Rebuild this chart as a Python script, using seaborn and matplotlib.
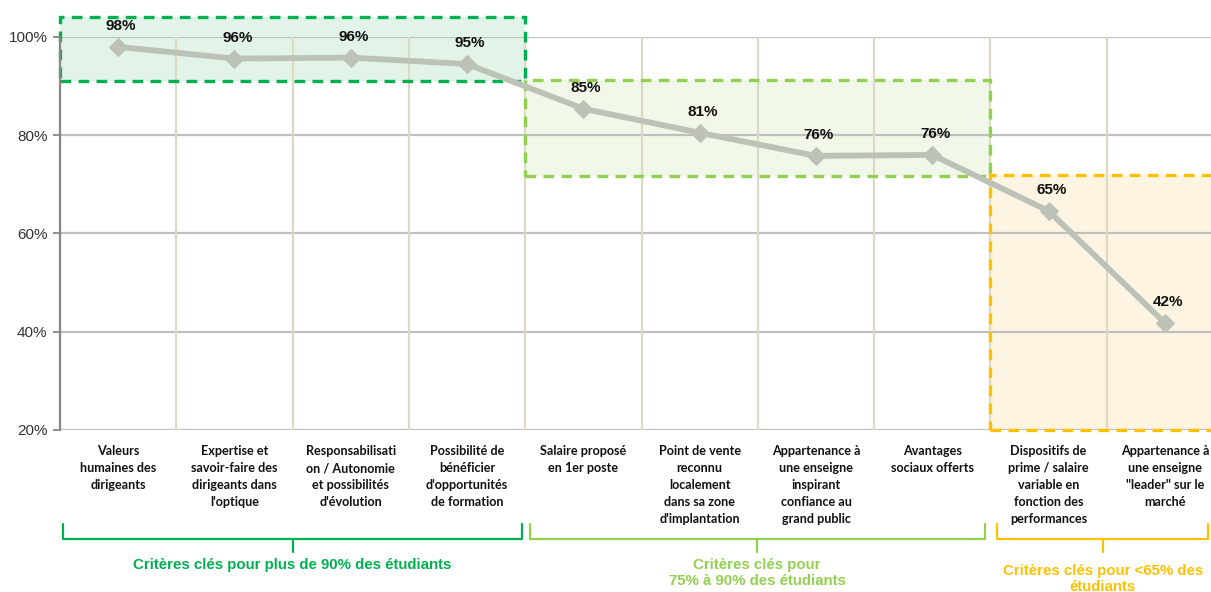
import matplotlib
matplotlib.use("Agg")
import matplotlib.pyplot as plt
import matplotlib.transforms as mtransforms
from matplotlib.patches import Rectangle
import seaborn as sns
import pandas as pd

# ---- data ----
categories = [
    "Valeurs\nhumaines des\ndirigeants",
    "Expertise et\nsavoir-faire des\ndirigeants dans\nl'optique",
    "Responsabilisati\non / Autonomie\net possibilités\nd'évolution",
    "Possibilité de\nbénéficier\nd'opportunités\nde formation",
    "Salaire proposé\nen 1er poste",
    "Point de vente\nreconnu\nlocalement\ndans sa zone\nd'implantation",
    "Appartenance à\nune enseigne\ninspirant\nconfiance au\ngrand public",
    "Avantages\nsociaux offerts",
    "Dispositifs de\nprime / salaire\nvariable en\nfonction des\nperformances",
    "Appartenance à\nune enseigne\n\"leader\" sur le\nmarché",
]
values = [98.0, 95.6, 95.8, 94.5, 85.4, 80.5, 75.8, 76.0, 64.6, 41.8]
value_labels = ["98%", "96%", "96%", "95%", "85%", "81%", "76%", "76%", "65%", "42%"]
y_ticks = [20, 40, 60, 80, 100]
y_tick_labels = ["20%", "40%", "60%", "80%", "100%"]

group_texts = [
    "Critères clés pour plus de 90% des étudiants",
    "Critères clés pour\n75% à 90% des étudiants",
    "Critères clés pour <65% des\nétudiants",
]
group_colors = ["#00b050", "#92d050", "#ffc000"]
group_fills = ["#e2f4e8", "#f1f8ea", "#fdf5e2"]

df = pd.DataFrame({"x": list(range(len(values))), "v": values})

sns.set_theme(style="white")
W, H = 1211, 592
fig = plt.figure(figsize=(W / 100, H / 100), dpi=100)
ax = fig.add_axes([60 / W, 1 - 430 / H, (1223 - 60) / W, (430 - 37) / H])

ax.set_xlim(-0.5, 9.5)
ax.set_ylim(20, 100)

# grid
for y in y_ticks:
    ax.axhline(y, color="#c0c0c0", lw=1.6, zorder=1)
for xb in [i + 0.5 for i in range(-1, 10)]:
    ax.axvline(xb, color="#ddd9c3", lw=1.6, zorder=1)

# boxes (x0, x1, y0, y1)
boxes = [(-0.5, 3.5, 91.0, 104.1), (3.5, 7.5, 71.8, 91.2), (7.5, 9.6, 20.0, 72.0)]
for (x0, x1, y0, y1), ec, fc in zip(boxes, group_colors, group_fills):
    ax.add_patch(Rectangle((x0, y0), x1 - x0, y1 - y0, facecolor=fc, edgecolor="none",
                           zorder=0.5, clip_on=False))
    ax.add_patch(Rectangle((x0, y0), x1 - x0, y1 - y0, facecolor="none", edgecolor=ec,
                           lw=2.4, linestyle=(0, (3.2, 2.2)), zorder=2, clip_on=False))

sns.lineplot(data=df, x="x", y="v", ax=ax, color="#bcc2b8", lw=4.2, marker="D",
             markersize=9, markeredgecolor="#bcc2b8", zorder=3)
for ln in ax.lines[-1:]:
    ln.set_clip_on(False)

for i, (v, lab) in enumerate(zip(values, value_labels)):
    ax.annotate(lab, (i, v), xytext=(2, 15), textcoords="offset points", ha="center",
                va="center", fontsize=11, fontweight="bold", color="#111111",
                family="Liberation Sans", zorder=4, annotation_clip=False)

ax.set_xticks(range(len(categories)))
ax.set_xticklabels(categories, fontsize=9.1, fontweight="bold", family="Lato",
                   linespacing=1.5, va="top", color="#111111")
ax.tick_params(axis="x", length=0, pad=11)
ax.set_yticks(y_ticks)
ax.set_yticklabels(y_tick_labels, fontsize=11, family="Liberation Sans", color="#333333")
ax.tick_params(axis="y", length=5, width=1.3, color="#888888", left=True, pad=4)
ax.set_xlabel("")
ax.set_ylabel("")

for s in ["top", "right", "bottom"]:
    ax.spines[s].set_visible(False)
ax.spines["left"].set_color("#888888")
ax.spines["left"].set_linewidth(1.6)
ax.spines["left"].set_zorder(2.5)

# brackets
tr = mtransforms.blended_transform_factory(ax.transData, fig.transFigure)
def fy(px):
    return 1 - px / H

brackets = [(-0.47, 3.47), (3.54, 7.45), (7.56, 9.37)]
text_y = [566, 566, 572]
for (b0, b1), col, txt, ty in zip(brackets, group_colors, group_texts, text_y):
    mid = (b0 + b1) / 2
    ax.plot([b0, b0, b1, b1], [fy(524), fy(539), fy(539), fy(524)], color=col, lw=1.6,
            transform=tr, clip_on=False, solid_joinstyle="round")
    ax.plot([mid, mid], [fy(539), fy(552)], color=col, lw=1.6, transform=tr, clip_on=False)
    ax.text(mid, fy(ty - 8), txt, transform=tr, ha="center", va="top", color=col,
            fontsize=10.8, fontweight="bold", family="Liberation Sans", linespacing=1.15)

fig.savefig("out.png", dpi=100)
